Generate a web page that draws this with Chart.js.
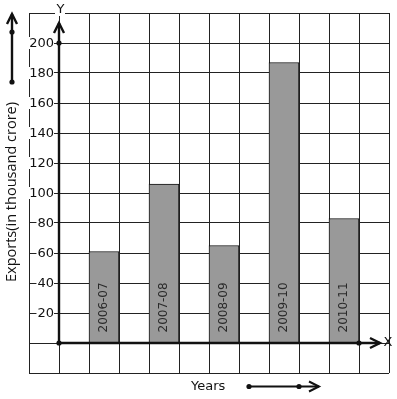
<!DOCTYPE html>
<html>
<head>
<meta charset="utf-8">
<script src="https://cdn.jsdelivr.net/npm/chart.js@4/dist/chart.umd.min.js"></script>
<style>
  html, body { margin: 0; padding: 0; background: #fff; }
  #wrap { width: 397px; height: 399px; }
</style>
</head>
<body>
<div id="wrap"><canvas id="bar-chart"></canvas></div>
<script>
(function () {
    "use strict";

    // data
    const years = ["2006-07", "2007-08", "2008-09", "2009-10", "2010-11"];
    const exportsValues = [61, 106, 65, 187, 83];
    const yTicks = [20, 40, 60, 80, 100, 120, 140, 160, 180, 200];

    // graph paper: 12 cells across, a bar in every other cell starting at the 3rd
    const labels = ["", ""];
    const values = [null, null];
    years.forEach((yr, i) => {
        labels.push(yr, "");
        values.push(exportsValues[i], null);
    });

    const ink = "#111";
    const tickFont = "13px 'DejaVu Sans'";

    function dot(ctx, x, y) {
        ctx.beginPath();
        ctx.arc(x, y, 2.6, 0, Math.PI * 2);
        ctx.fill();
    }

    function chevron(ctx, tx, ty, dx, dy) {
        // open arrow head, tip at (tx, ty), pointing along (dx, dy)
        const len = 10, half = 5;
        const px = -dy, py = dx;
        ctx.beginPath();
        ctx.moveTo(tx - dx * len + px * half, ty - dy * len + py * half);
        ctx.lineTo(tx, ty);
        ctx.lineTo(tx - dx * len - px * half, ty - dy * len - py * half);
        ctx.stroke();
    }

    const overlay = {
        id: "overlay",
        afterDatasetsDraw(chart) {
            const ctx = chart.ctx;
            const xs = chart.scales.x, ys = chart.scales.y;
            const cell = xs.getPixelForValue(1) - xs.getPixelForValue(0);
            const ox = xs.getPixelForValue(0) + cell / 2;
            const oy = ys.getPixelForValue(0);

            ctx.save();

            // labels inside bars
            ctx.fillStyle = "#2a2a2a";
            ctx.font = "12px 'DejaVu Sans'";
            ctx.textAlign = "left";
            ctx.textBaseline = "middle";
            chart.getDatasetMeta(0).data.forEach((bar, i) => {
                if (values[i] === null) return;
                ctx.save();
                ctx.translate(bar.x, bar.base - 10);
                ctx.rotate(-Math.PI / 2);
                ctx.fillText(labels[i], 0, 0);
                ctx.restore();
            });

            // y tick labels with white backdrop
            ctx.font = tickFont;
            ctx.textAlign = "right";
            yTicks.forEach((v) => {
                const py = ys.getPixelForValue(v);
                const t = String(v);
                const w = ctx.measureText(t).width;
                ctx.fillStyle = "#fff";
                ctx.fillRect(ox - 6 - w, py - 6, w + 1, 12);
                ctx.fillStyle = ink;
                ctx.fillText(t, ox - 5, py + 0.5);
            });

            // axes
            ctx.strokeStyle = ink;
            ctx.fillStyle = ink;
            ctx.lineWidth = 2.4;
            ctx.lineCap = "butt";
            const yTop = ys.top + 10;
            const xEnd = xs.right - 9;
            ctx.beginPath();
            ctx.moveTo(ox, oy);
            ctx.lineTo(ox, yTop);
            ctx.moveTo(ox, oy);
            ctx.lineTo(xEnd, oy);
            ctx.stroke();
            chevron(ctx, ox, yTop, 0, -1);
            chevron(ctx, xEnd, oy, 1, 0);
            dot(ctx, ox, oy);
            dot(ctx, ox, ys.getPixelForValue(200));
            dot(ctx, xs.getPixelForValue(10) + cell / 2, oy);

            // axis letters
            ctx.font = tickFont;
            ctx.textAlign = "center";
            ctx.textBaseline = "middle";
            ctx.fillStyle = "#fff";
            ctx.fillRect(ox - 4, ys.top - 9, 10, 12);
            ctx.fillStyle = ink;
            ctx.fillText("Y", ox + 1.5, ys.top - 3);
            ctx.fillText("X", xs.right - 1, oy);

            // y axis title with its arrow
            ctx.save();
            ctx.translate(12, 192);
            ctx.rotate(-Math.PI / 2);
            ctx.font = "14.5px 'Open Sans'";
            ctx.textAlign = "center";
            ctx.fillText("Exports(in thousand crore)", 0, 0);
            ctx.restore();
            ctx.lineWidth = 2.4;
            ctx.beginPath();
            ctx.moveTo(12, 82);
            ctx.lineTo(12, 14);
            ctx.stroke();
            chevron(ctx, 12, 14, 0, -1);
            dot(ctx, 12, 82);
            dot(ctx, 12, 32);

            // x axis title with its arrow
            ctx.font = "13px 'DejaVu Sans'";
            ctx.textAlign = "left";
            ctx.textBaseline = "alphabetic";
            ctx.fillText("Years", 191, 390);
            ctx.lineWidth = 2;
            ctx.beginPath();
            ctx.moveTo(249, 386.5);
            ctx.lineTo(319, 386.5);
            ctx.stroke();
            chevron(ctx, 319, 386.5, 1, 0);
            dot(ctx, 249, 386.5);
            dot(ctx, 299, 386.5);

            ctx.restore();
        },
    };

    new Chart(document.getElementById("bar-chart"), {
        type: "bar",
        data: {
            labels: labels,
            datasets: [
                {
                    label: "Exports",
                    data: values,
                    backgroundColor: "#999999",
                    borderColor: "#111",
                    borderWidth: 1,
                    borderSkipped: "bottom",
                    categoryPercentage: 1,
                    barPercentage: 1,
                },
            ],
        },
        options: {
            responsive: true,
            maintainAspectRatio: false,
            animation: false,
            layout: {
                padding: { left: 29, top: 13, right: 8, bottom: 26 },
            },
            plugins: {
                legend: { display: false },
                tooltip: { enabled: false },
            },
            scales: {
                x: {
                    offset: true,
                    ticks: { display: false },
                    grid: {
                        offset: true,
                        color: "#222",
                        lineWidth: 1,
                        drawTicks: false,
                    },
                    border: { display: false },
                },
                y: {
                    min: -20,
                    max: 220,
                    ticks: { display: false, stepSize: 20 },
                    grid: {
                        color: "#222",
                        lineWidth: 1,
                        drawTicks: false,
                    },
                    border: { display: false },
                },
            },
        },
        plugins: [overlay],
    });
})();
</script>
</body>
</html>
